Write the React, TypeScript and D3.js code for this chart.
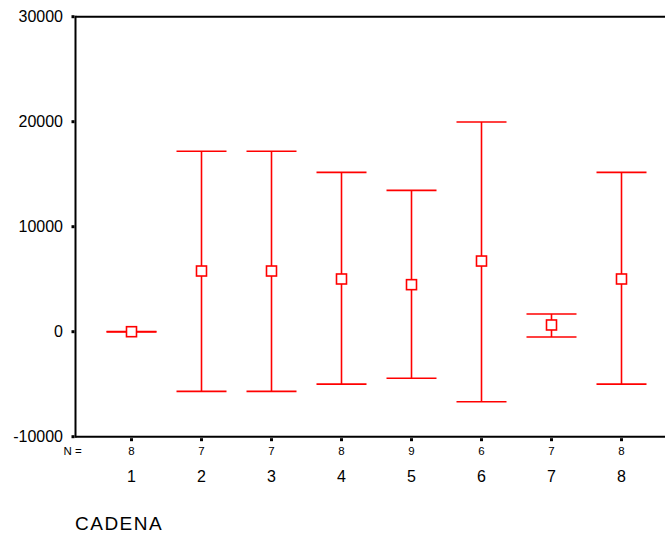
import React from "react";
import * as d3 from "d3";

const categories = [1, 2, 3, 4, 5, 6, 7, 8];
const nValues = [8, 7, 7, 8, 9, 6, 7, 8];
const means = [0, 5780, 5780, 5020, 4480, 6730, 640, 5020];
const lowers = [-25, -5680, -5680, -4990, -4440, -6670, -505, -4990];
const uppers = [25, 17180, 17180, 15170, 13460, 19970, 1690, 15170];
const yTicks = [-10000, 0, 10000, 20000, 30000];
const xTitle = "CADENA";

const W = 665;
const H = 533;
const font = "'Liberation Sans', Arial, Helvetica, sans-serif";
const red = "#ff0000";

export default function App() {
  const x = d3.scaleLinear().domain([0.2, 8.8]).range([75.5, 677.5]);
  const y = d3.scaleLinear().domain([-10000, 30000]).range([436.7, 16.7]);
  const left = x(0.2);
  const bottom = y(-10000);
  const top = y(30000);
  const capHalf = 25;
  const sq = 10;

  return (
    <svg
      width={W}
      height={H}
      style={{ position: "absolute", left: 0, top: 0, background: "#fff" }}
      fontFamily={font}
    >
      <rect x={0} y={0} width={W} height={H} fill="#fff" />
      {/* frame */}
      <line x1={left} x2={W + 20} y1={top} y2={top} stroke="#000" strokeWidth={2} />
      <line x1={left} x2={W + 20} y1={bottom} y2={bottom} stroke="#000" strokeWidth={2} />
      <line x1={left} x2={left} y1={top - 1} y2={bottom + 1} stroke="#000" strokeWidth={2} />

      {/* y ticks */}
      {yTicks.map((t) => (
        <g key={t}>
          <rect x={left - 4} y={y(t) - 1.5} width={3} height={3} fill="#000" />
          <text
            x={63}
            y={y(t)}
            dy="0.36em"
            textAnchor="end"
            fontSize={16}
            fill="#000"
          >
            {t}
          </text>
        </g>
      ))}

      {/* x ticks, N labels, category labels */}
      <text x={63.5} y={454.5} fontSize={11.5} fill="#000">
        N =
      </text>
      {categories.map((c, i) => (
        <g key={c}>
          <rect x={x(c) - 1.5} y={bottom + 1.5} width={3} height={3} fill="#000" />
          <text x={x(c)} y={454.5} textAnchor="middle" fontSize={11.5} fill="#000">
            {nValues[i]}
          </text>
          <text x={x(c)} y={482} textAnchor="middle" fontSize={16} fill="#000">
            {c}
          </text>
        </g>
      ))}

      <text x={75} y={529.5} fontSize={19} letterSpacing={1.5} fill="#000">
        {xTitle}
      </text>

      {/* error bars */}
      {categories.map((c, i) => {
        const cx = x(c);
        const yl = y(lowers[i]);
        const yu = y(uppers[i]);
        const ym = y(means[i]);
        return (
          <g key={"e" + c} stroke={red} strokeWidth={1.6} fill="none">
            <line x1={cx} x2={cx} y1={yu} y2={yl} />
            <line x1={cx - capHalf} x2={cx + capHalf} y1={yu} y2={yu} />
            <line x1={cx - capHalf} x2={cx + capHalf} y1={yl} y2={yl} />
            <rect x={cx - sq / 2} y={ym - sq / 2} width={sq} height={sq} fill="#fff" />
          </g>
        );
      })}
    </svg>
  );
}
